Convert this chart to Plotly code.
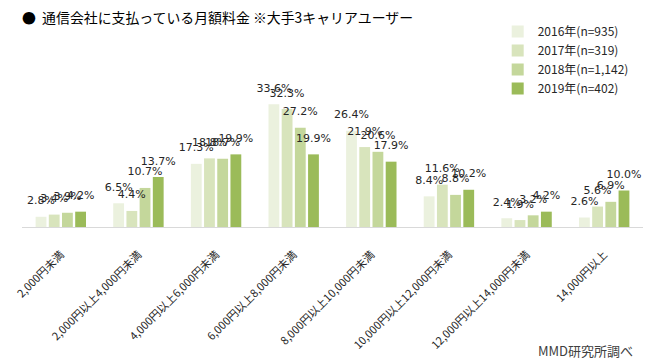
import plotly.graph_objects as go

categories = ["2,000円未満", "2,000円以上4,000円未満", "4,000円以上6,000円未満",
              "6,000円以上8,000円未満", "8,000円以上10,000円未満",
              "10,000円以上12,000円未満", "12,000円以上14,000円未満", "14,000円以上"]
series_names = ["2016年(n=935)", "2017年(n=319)", "2018年(n=1,142)", "2019年(n=402)"]
v2016 = [2.8, 6.5, 17.3, 33.6, 26.4, 8.4, 2.4, 2.6]
v2017 = [3.4, 4.4, 18.8, 32.3, 21.9, 11.6, 1.9, 5.6]
v2018 = [3.9, 10.7, 18.7, 27.2, 20.6, 8.8, 3.2, 6.9]
v2019 = [4.2, 13.7, 19.9, 19.9, 17.9, 10.2, 4.2, 10.0]
colors = ["#EBF1DE", "#D8E4BC", "#C4D79B", "#9BBB59"]

FONT = "Noto Sans CJK JP"
LABEL_FONT = "DejaVu Sans"
fig = go.Figure()
all_vals = [v2016, v2017, v2018, v2019]
for i, (name, vals, col) in enumerate(zip(series_names, all_vals, colors)):
    fig.add_trace(go.Bar(
        x=categories, y=vals, name=name, marker=dict(color=col, line=dict(width=0)),
        offsetgroup=str(i),
    ))
for i, vals in enumerate(all_vals):
    fig.add_trace(go.Scatter(
        x=categories, y=vals, mode="markers+text", showlegend=False,
        marker=dict(size=14, opacity=0), offsetgroup=str(i),
        text=[f"{v:.1f}%" for v in vals], textposition="top center",
        textfont=dict(size=11, color="#262626", family=LABEL_FONT),
        cliponaxis=False, hoverinfo="skip",
    ))

fig.update_layout(
    width=650, height=359,
    margin=dict(l=22, r=7, t=81, b=132, autoexpand=False),
    paper_bgcolor="white", plot_bgcolor="white",
    barmode="group", bargap=0.32, bargroupgap=0.18,
    scattermode="group", scattergap=0.32,
    font=dict(family=FONT, color="#262626"),
    showlegend=True,
    legend=dict(x=0.766, y=1 - 17 / 359, xanchor="left", yanchor="top",
                xref="paper", yref="container",
                font=dict(size=12, family=FONT, color="#262626"),
                itemwidth=30, tracegroupgap=0, bgcolor="rgba(0,0,0,0)"),
)
fig.update_xaxes(showline=True, linecolor="#D9D9D9", linewidth=1,
                 ticks="outside", ticklen=16, tickcolor="rgba(0,0,0,0)",
                 tickangle=-45, tickfont=dict(size=11, family=FONT, color="#262626"),
                 showgrid=False, automargin=False)
fig.update_yaxes(range=[0, 40], visible=False, showgrid=False, automargin=False)

fig.add_annotation(text="●  通信会社に支払っている月額料金 ※大手3キャリアユーザー",
                   xref="paper", yref="paper", x=-0.003, y=1, yanchor="middle",
                   xanchor="left", showarrow=False, yshift=81 - 17,
                   font=dict(size=13.9, family=FONT, color="#000000"))
fig.add_annotation(text="MMD研究所調べ", xref="paper", yref="paper",
                   x=1.0, y=0, xanchor="right", yanchor="middle", showarrow=False,
                   xshift=-8, yshift=-(350 - 227),
                   font=dict(size=13, family=FONT, color="#404040"))
fig.write_html("out.html", config={"displayModeBar": False},
               post_script="document.body.style.margin='0px';")
